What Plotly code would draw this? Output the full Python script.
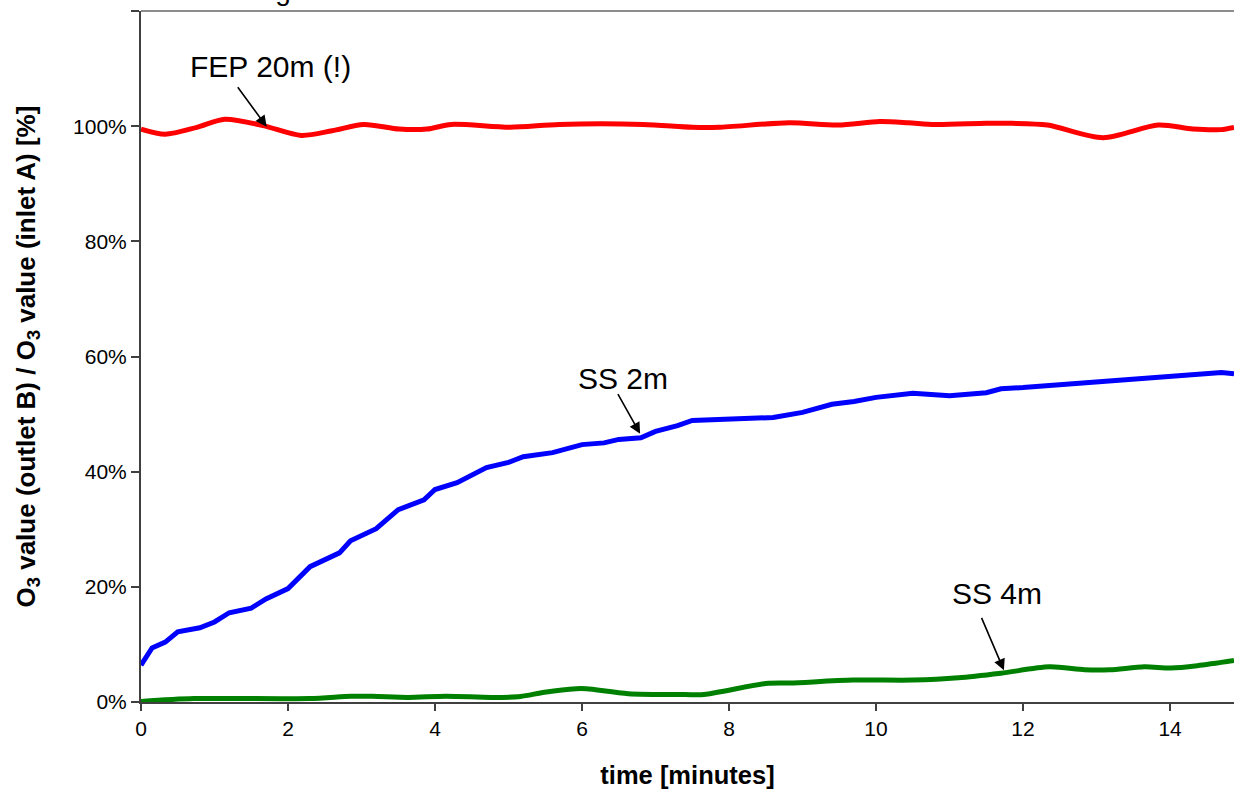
import plotly.graph_objects as go

# FEP 20m (red)
fep_t = [0, 0.33, 0.76, 1.14, 1.66, 2.18, 2.6, 3.03, 3.51, 3.89, 4.22, 5.02, 5.69, 6.83, 7.5, 7.86,
         8.82, 9.48, 10.05, 10.44, 10.8, 11.5, 11.85, 12.33, 13.09, 13.84, 14.31, 14.69, 14.87]
fep_v = [99.5, 98.6, 99.8, 101.2, 100.1, 98.4, 99.2, 100.3, 99.5, 99.5, 100.3, 99.8, 100.3, 100.3, 99.8, 99.8,
         100.6, 100.2, 100.8, 100.6, 100.3, 100.5, 100.5, 100.2, 98.0, 100.2, 99.5, 99.4, 99.8]

# SS 2m (blue)
ss2_t = [0, 0.15, 0.33, 0.5, 0.8, 1.0, 1.2, 1.5, 1.7, 2.0, 2.3, 2.7, 2.85, 3.0, 3.2, 3.5, 3.85, 4.0,
         4.3, 4.7, 5.0, 5.2, 5.6, 6.0, 6.3, 6.5, 6.8, 7.0, 7.3, 7.5, 8.0, 8.3, 8.6, 9.0, 9.4, 9.7,
         10.0, 10.5, 11.0, 11.5, 11.7, 12.0, 12.5, 13.0, 13.5, 13.8, 14.0, 14.5, 14.7, 14.87]
ss2_v = [6.4, 9.4, 10.4, 12.2, 12.9, 13.9, 15.5, 16.3, 17.9, 19.7, 23.5, 25.9, 28.0, 29.0, 30.1, 33.4, 35.1, 36.9,
         38.1, 40.7, 41.6, 42.6, 43.3, 44.7, 45.0, 45.6, 45.9, 47.0, 48.0, 48.9, 49.2, 49.4, 49.4, 50.3, 51.7, 52.2,
         52.9, 53.6, 53.2, 53.7, 54.4, 54.6, 55.1, 55.5, 56.2, 56.3, 56.7, 57.0, 57.2, 57.0]

# SS 4m (green)
ss4_t = [0, 0.72, 2.29, 2.86, 3.15, 3.63, 4.15, 4.77, 5.16, 5.49, 5.92, 6.06, 6.63, 7.4, 7.66, 8.5, 8.83,
         9.69, 10.5, 11.12, 11.7, 12.36, 12.84, 13.18, 13.65, 14.01, 14.37, 14.87]
ss4_v = [0.1, 0.6, 0.6, 1.0, 1.0, 0.8, 1.0, 0.8, 0.95, 1.7, 2.3, 2.3, 1.45, 1.3, 1.3, 3.2, 3.3,
         3.8, 3.8, 4.2, 5.0, 6.1, 5.6, 5.6, 6.1, 5.9, 6.3, 7.2]

x_ticks = [0, 2, 4, 6, 8, 10, 12, 14]
y_ticks = [0, 20, 40, 60, 80, 100, 120]
y_labels = ["0%", "20%", "40%", "60%", "80%", "100%", ""]

FONT = "Liberation Sans, Arial, sans-serif"

fig = go.Figure()
fig.add_trace(go.Scatter(x=fep_t, y=fep_v, mode="lines", line=dict(color="#FF0000", width=5, shape="spline", smoothing=0.8), name="FEP 20m (!)"))
fig.add_trace(go.Scatter(x=ss2_t, y=ss2_v, mode="lines", line=dict(color="#0000FF", width=5), name="SS 2m"))
fig.add_trace(go.Scatter(x=ss4_t, y=ss4_v, mode="lines", line=dict(color="#008000", width=5, shape="spline", smoothing=0.8), name="SS 4m"))

annots = [
    ("FEP 20m (!)", 1.76, 110.4, 1.71, 99.9, -30, -41),
    ("SS 2m", 6.56, 56.2, 6.79, 46.6, -23, -41),
    ("SS 4m", 11.65, 18.9, 11.74, 5.5, -23, -54),
]
for text, tx, ty, hx, hy, ax, ay in annots:
    fig.add_annotation(x=tx, y=ty, xref="x", yref="y", text=text, showarrow=False,
                       font=dict(family=FONT, size=30, color="black"))
    fig.add_annotation(x=hx, y=hy, xref="x", yref="y", text="", showarrow=True,
                       ax=ax, ay=ay, arrowhead=2, arrowsize=1.4, arrowwidth=1.6,
                       arrowcolor="black", standoff=0)

# cropped title at very top of the picture
fig.add_annotation(x=-0.097, y=1, xref="paper", yref="paper", xanchor="left", yanchor="bottom",
                   yshift=3, text="Ozone loss in tubing", showarrow=False,
                   font=dict(family=FONT, size=28, color="black"))

fig.update_layout(
    width=1234, height=789,
    margin=dict(l=141, r=0, t=11, b=87),
    paper_bgcolor="white", plot_bgcolor="white",
    showlegend=False,
    font=dict(family=FONT, color="black"),
    shapes=[dict(type="line", xref="paper", yref="paper", x0=0, x1=1, y0=1, y1=1,
                 line=dict(color="#8c8c8c", width=2))],
)
fig.update_xaxes(
    range=[0, 14.87], tickvals=x_ticks, ticks="outside", ticklen=7, tickwidth=1.5, tickcolor="#404040",
    showline=True, linecolor="#404040", linewidth=2, showgrid=False, zeroline=False,
    tickfont=dict(family=FONT, size=21),
    title=dict(text="<b>time [minutes]</b>", font=dict(family=FONT, size=25.5), standoff=27),
)
fig.update_yaxes(
    range=[0, 120], tickvals=y_ticks, ticktext=y_labels, ticks="outside", ticklen=8, tickwidth=1.5,
    tickcolor="#404040", showline=True, linecolor="#404040", linewidth=2, showgrid=False, zeroline=False,
    tickfont=dict(family=FONT, size=21),
    title=dict(text="<b>O<sub>3</sub> value (outlet B) / O<sub>3</sub> value (inlet A) [%]</b>",
               font=dict(family=FONT, size=26), standoff=30),
)

fig.write_html("out.html", config={"displayModeBar": False},
               post_script="document.body.style.margin='0px';")
